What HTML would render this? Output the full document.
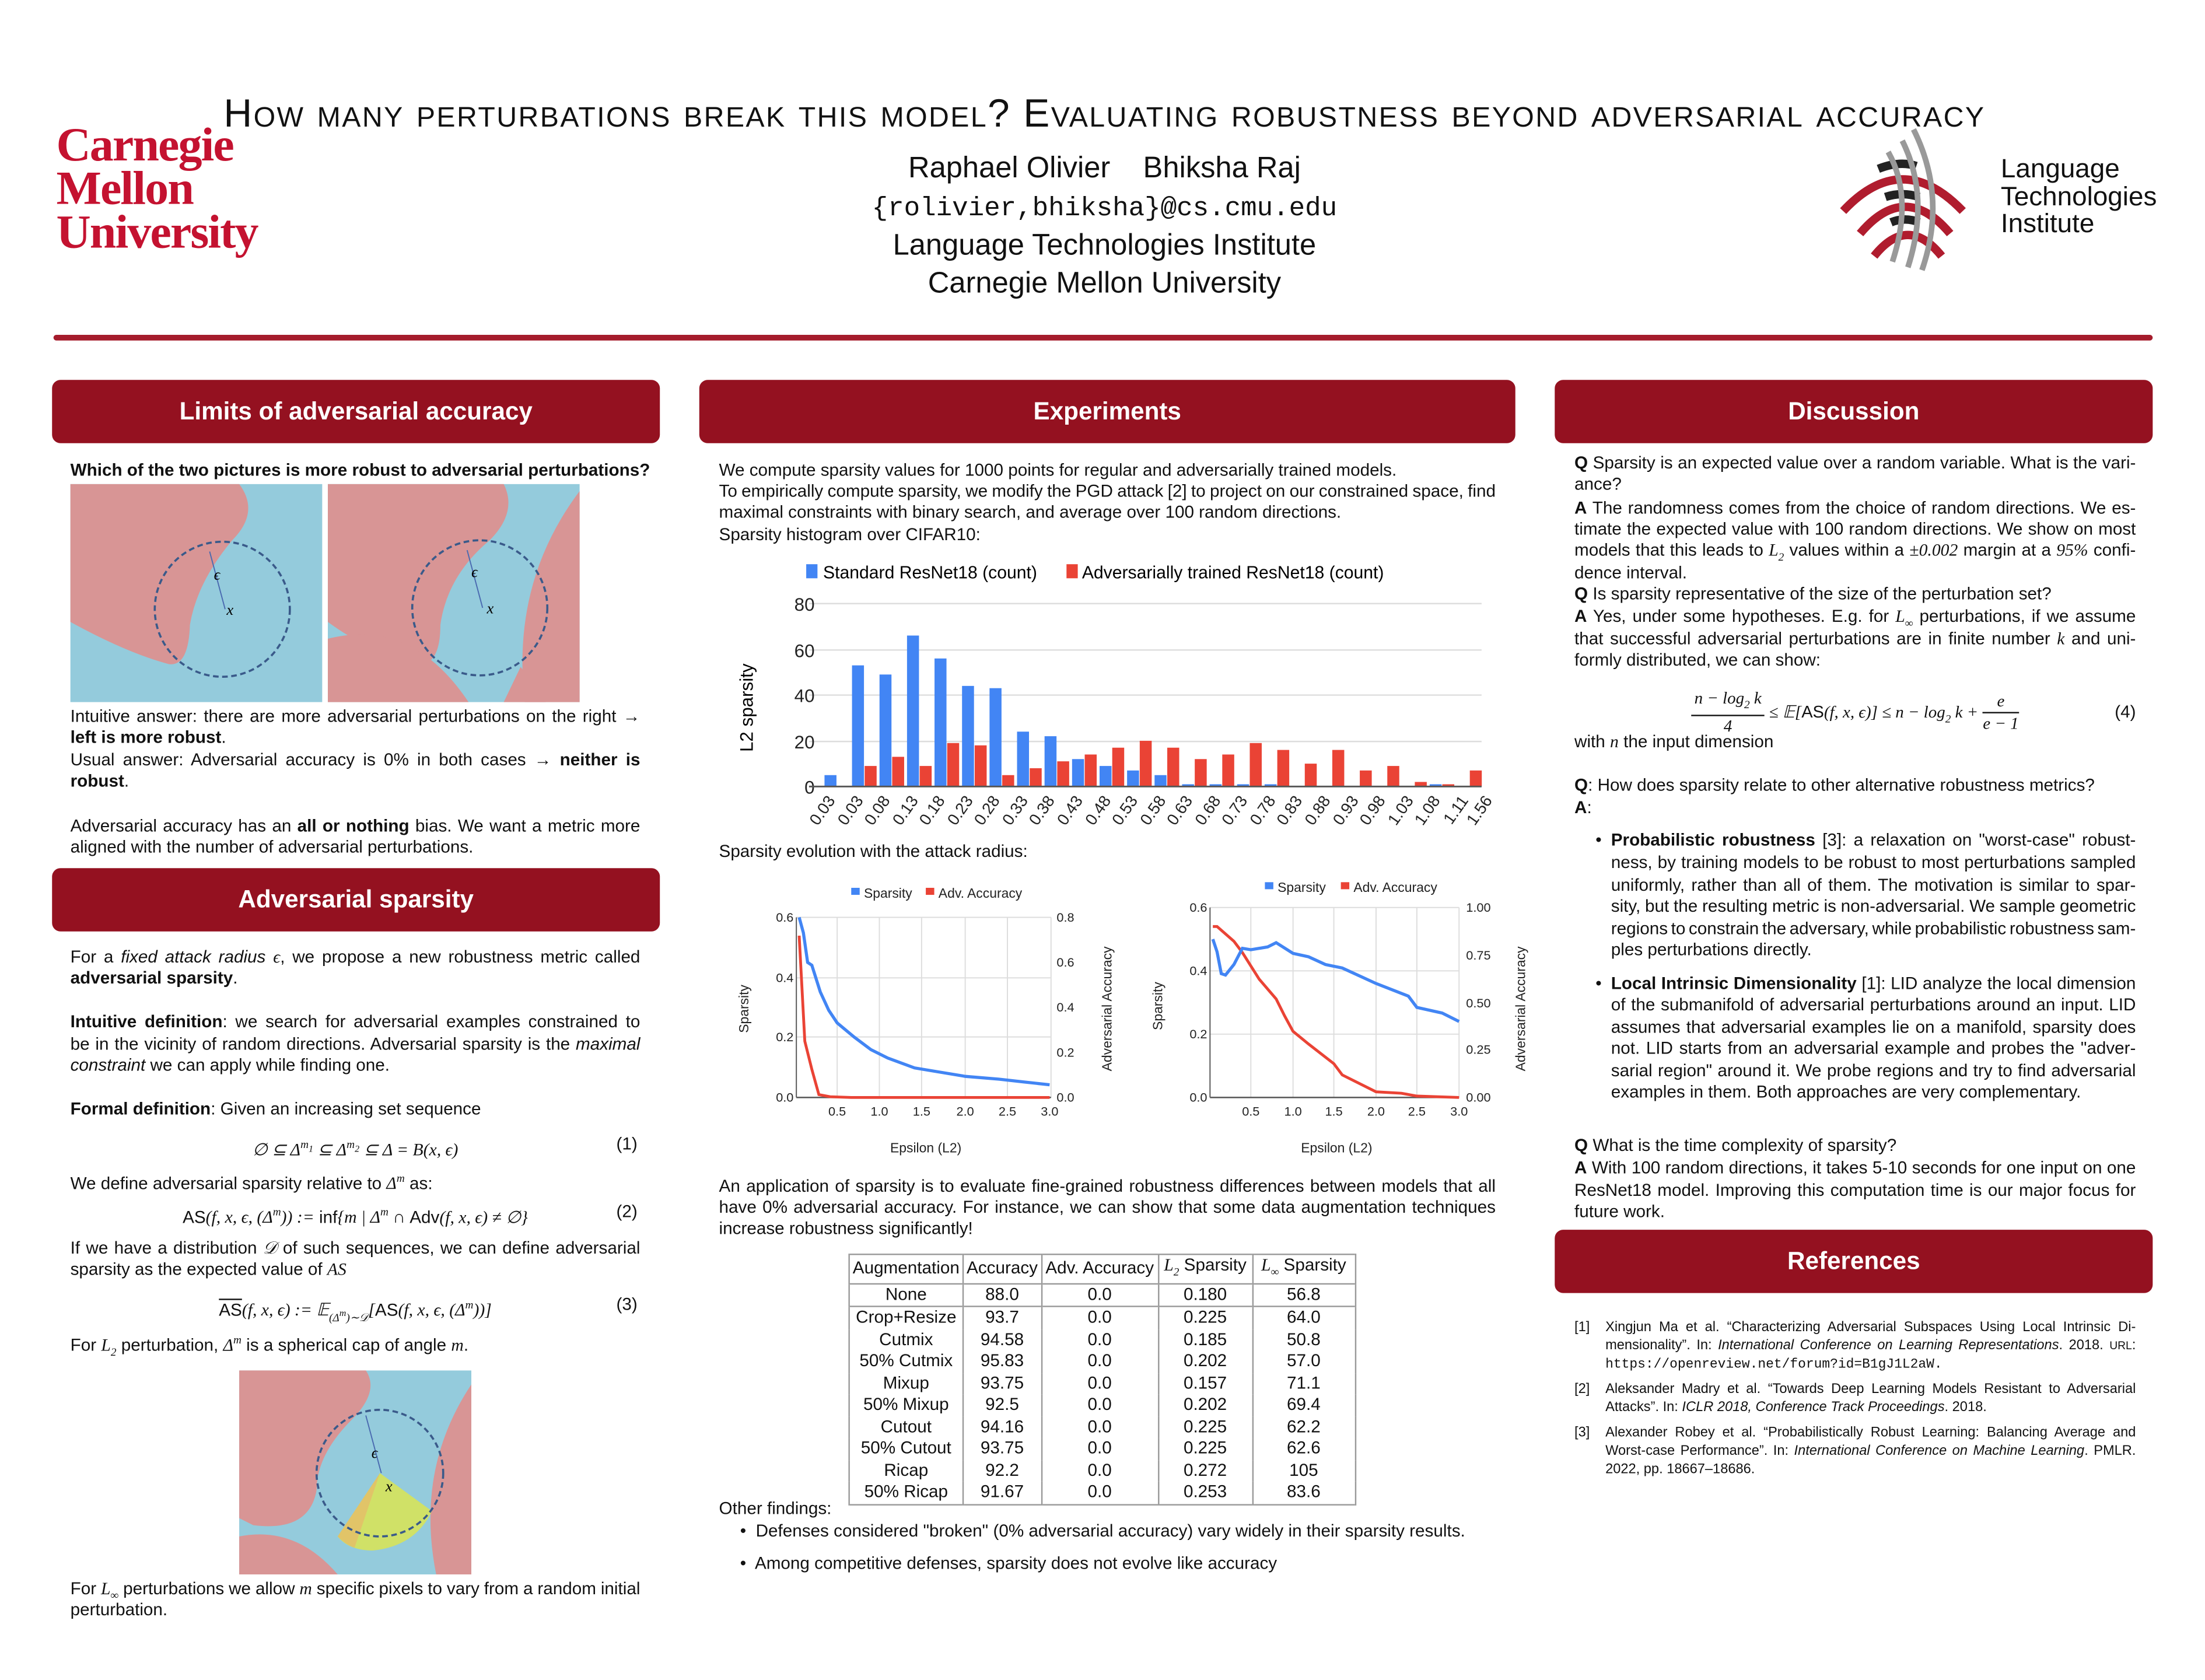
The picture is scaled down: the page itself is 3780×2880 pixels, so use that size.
<!DOCTYPE html>
<html><head><meta charset="utf-8">
<style>
html,body{margin:0;padding:0;background:#fff;}
body{width:3780px;height:2880px;overflow:hidden;position:relative;}
#s{position:absolute;left:0;top:0;width:1567px;height:1194px;transform:scale(2.412);transform-origin:0 0;font-family:"Liberation Sans",sans-serif;color:#111;}
.a{position:absolute;white-space:nowrap;}
.t{position:absolute;font-size:12.3px;line-height:15px;white-space:nowrap;}
.j{text-align:justify;text-align-last:justify;white-space:normal;word-spacing:-2px;height:15px;}
.r{font-size:9.8px;line-height:13px;}
.r.j{height:13px;}
.hd{position:absolute;background:#941120;color:#fff;font-weight:bold;font-size:17.5px;text-align:center;line-height:45px;height:45px;border-radius:6px;}
.m{font-family:"Liberation Serif",serif;font-style:italic;}
.fr{display:inline-block;vertical-align:middle;text-align:center;line-height:15px;}
.fr span{display:block;}
.fr .n{border-bottom:1px solid #111;padding:0 2px;}
table{border-collapse:collapse;font-size:12.3px;}
td{padding:0 2px;text-align:center;height:15.5px;line-height:15.5px;border-left:1px solid #999;border-right:1px solid #999;white-space:nowrap;}
</style></head><body>
<div id="s">

<div class="a" style="left:0;width:1570px;text-align:center;top:65px;font-size:28px;font-variant:small-caps;letter-spacing:1px;">How many perturbations break this model? Evaluating robustness beyond adversarial accuracy</div>
<div class="a" style="left:0;width:1570px;text-align:center;top:108px;font-size:21px;">Raphael Olivier&nbsp;&nbsp;&nbsp;&nbsp;Bhiksha Raj</div>
<div class="a" style="left:0;width:1570px;text-align:center;top:137px;font-size:19px;font-family:'Liberation Mono',monospace;">{rolivier,bhiksha}@cs.cmu.edu</div>
<div class="a" style="left:0;width:1570px;text-align:center;top:163px;font-size:21px;">Language Technologies Institute</div>
<div class="a" style="left:0;width:1570px;text-align:center;top:190px;font-size:21px;">Carnegie Mellon University</div>

<div class="a" style="left:40px;top:88px;font-family:'Liberation Serif',serif;font-weight:bold;color:#c41230;font-size:34px;line-height:31px;letter-spacing:-0.8px;">Carnegie<br>Mellon<br>University</div>

<svg class="a" style="left:1300px;top:85px;" width="110" height="110" viewBox="1300 85 110 110">
<g fill="none" stroke-width="6">
<path d="M1310,150 Q1352,105 1395,150" stroke="#b01c2e"/>
<path d="M1322,166 Q1354,128 1386,166" stroke="#b01c2e"/>
<path d="M1332,182 Q1356,152 1380,182" stroke="#b01c2e"/>
<path d="M1335,120 Q1350,114 1362,118" stroke="#222"/>
<path d="M1340,140 Q1352,136 1364,140" stroke="#222"/>
<path d="M1344,158 Q1354,154 1364,158" stroke="#222"/>
</g>
<g stroke="#999" stroke-width="4" fill="none">
<path d="M1342,108 Q1360,140 1345,186"/>
<path d="M1352,100 Q1372,140 1356,190"/>
<path d="M1360,92 Q1384,140 1366,192"/>
</g>
</svg>
<div class="a" style="left:1422px;top:111px;font-size:19px;line-height:19.5px;">Language<br>Technologies<br>Institute</div>

<div class="a" style="left:38px;top:238px;width:1492px;height:4px;background:#a51c2c;border-radius:2px;"></div>

<div class="hd" style="left:37px;top:270px;width:432px;">Limits of adversarial accuracy</div>
<div class="hd" style="left:497px;top:270px;width:580px;">Experiments</div>
<div class="hd" style="left:1105px;top:270px;width:425px;">Discussion</div>
<div class="hd" style="left:37px;top:617px;width:432px;">Adversarial sparsity</div>
<div class="hd" style="left:1105px;top:874px;width:425px;">References</div>

<div class="t" style="left:50px;top:327px;font-weight:bold;">Which of the two pictures is more robust to adversarial perturbations?</div>

<svg class="a" style="left:50px;top:344px;" width="362" height="156" viewBox="0 0 362 156">
<rect x="0" y="0" width="179" height="155" fill="#94cbdc"/>
<path d="M0,0 L120,0 Q135,20 115,40 Q90,70 85,100 Q84,130 70,128 Q40,120 0,98 Z" fill="#d89595"/>
<circle cx="108" cy="89" r="48" fill="none" stroke="#3a5a8a" stroke-width="1.5" stroke-dasharray="4,2.5"/>
<line x1="99" y1="48" x2="110" y2="89" stroke="#4a6ab0" stroke-width="0.8"/>
<text x="102" y="68" font-family="Liberation Serif" font-style="italic" font-size="11">ϵ</text>
<text x="111" y="93" font-family="Liberation Serif" font-style="italic" font-size="11">x</text>
<g transform="translate(183,0)">
<rect x="0" y="0" width="179" height="155" fill="#94cbdc"/>
<path d="M0,0 L125,0 Q135,20 115,40 Q85,65 80,100 Q80,130 63,128 Q30,120 0,98 Z" fill="#d89595"/>
<path d="M179,5 Q130,70 140,155 L179,155 Z" fill="#d89595"/>
<path d="M0,110 Q60,95 100,155 L0,155 Z" fill="#d89595"/>
<path d="M137,130 Q145,140 155,155 L125,155 Z" fill="#d89595"/>
<circle cx="108" cy="88" r="48" fill="none" stroke="#3a5a8a" stroke-width="1.5" stroke-dasharray="4,2.5"/>
<line x1="99" y1="47" x2="110" y2="88" stroke="#4a6ab0" stroke-width="0.8"/>
<text x="102" y="66" font-family="Liberation Serif" font-style="italic" font-size="11">ϵ</text>
<text x="113" y="92" font-family="Liberation Serif" font-style="italic" font-size="11">x</text>
</g>
</svg>

<div class="t j" style="left:50px;top:502px;width:405px;">Intuitive answer: there are more adversarial perturbations on the right →</div>
<div class="t" style="left:50px;top:517px;"><b>left is more robust</b>.</div>
<div class="t j" style="left:50px;top:533px;width:405px;">Usual answer: Adversarial accuracy is 0% in both cases → <b>neither is</b></div>
<div class="t" style="left:50px;top:548px;"><b>robust</b>.</div>
<div class="t j" style="left:50px;top:580px;width:405px;">Adversarial accuracy has an <b>all or nothing</b> bias. We want a metric more</div>
<div class="t" style="left:50px;top:595px;">aligned with the number of adversarial perturbations.</div>

<div class="t j" style="left:50px;top:673px;width:405px;">For a <i>fixed attack radius</i> <span class="m">ϵ</span>, we propose a new robustness metric called</div>
<div class="t" style="left:50px;top:688px;"><b>adversarial sparsity</b>.</div>
<div class="t j" style="left:50px;top:719px;width:405px;"><b>Intuitive definition</b>: we search for adversarial examples constrained to</div>
<div class="t j" style="left:50px;top:735px;width:405px;">be in the vicinity of random directions. Adversarial sparsity is the <i>maximal</i></div>
<div class="t" style="left:50px;top:750px;"><i>constraint</i> we can apply while finding one.</div>
<div class="t" style="left:50px;top:781px;"><b>Formal definition</b>: Given an increasing set sequence</div>
<div class="t" style="left:50px;top:806px;width:405px;text-align:center;"><span class="m">∅ ⊆ Δ<sup style="font-size:8px">m<sub>1</sub></sup> ⊆ Δ<sup style="font-size:8px">m<sub>2</sub></sup> ⊆ Δ = B(x, ϵ)</span></div>
<div class="t" style="left:438px;top:806px;">(1)</div>
<div class="t" style="left:50px;top:830px;">We define adversarial sparsity relative to <span class="m">Δ<sup style="font-size:8px">m</sup></span> as:</div>
<div class="t" style="left:50px;top:854px;width:405px;text-align:center;">AS<span class="m">(f, x, ϵ, (Δ<sup style="font-size:8px">m</sup>)) :=</span> inf<span class="m">{m | Δ<sup style="font-size:8px">m</sup> ∩ </span>Adv<span class="m">(f, x, ϵ) ≠ ∅}</span></div>
<div class="t" style="left:438px;top:854px;">(2)</div>
<div class="t j" style="left:50px;top:880px;width:405px;">If we have a distribution <span class="m">𝒟</span> of such sequences, we can define adversarial</div>
<div class="t" style="left:50px;top:895px;">sparsity as the expected value of <span class="m">AS</span></div>
<div class="t" style="left:50px;top:920px;width:405px;text-align:center;"><span style="text-decoration:overline">AS</span><span class="m">(f, x, ϵ) := 𝔼<sub style="font-size:8px">(Δ<sup>m</sup>)∼𝒟</sub>[</span>AS<span class="m">(f, x, ϵ, (Δ<sup style="font-size:8px">m</sup>))]</span></div>
<div class="t" style="left:438px;top:920px;">(3)</div>
<div class="t" style="left:50px;top:945px;">For <span class="m">L<sub style="font-size:8px">2</sub></span> perturbation, <span class="m">Δ<sup style="font-size:8px">m</sup></span> is a spherical cap of angle <span class="m">m</span>.</div>

<svg class="a" style="left:170px;top:974px;" width="165" height="145" viewBox="0 0 165 145">
<rect width="165" height="145" fill="#94cbdc"/>
<path d="M0,0 L90,0 Q100,15 80,35 Q55,60 55,85 Q50,115 10,110 L0,105 Z" fill="#d89595"/>
<path d="M165,10 Q125,70 140,145 L165,145 Z" fill="#d89595"/>
<path d="M0,118 Q40,110 70,145 L0,145 Z" fill="#d89595"/>
<path d="M100,73 L137,100 Q125,125 95,128 Q78,128 70,118 Z" fill="#d6e35a" opacity="0.9"/>
<path d="M100,73 L70,118 Q76,124 82,126 Z" fill="#e8b86a" opacity="0.7"/>
<circle cx="100" cy="73" r="45" fill="none" stroke="#3a5a8a" stroke-width="1.5" stroke-dasharray="4,2.5"/>
<line x1="90" y1="32" x2="101" y2="73" stroke="#4a6ab0" stroke-width="0.8"/>
<text x="94" y="62" font-family="Liberation Serif" font-style="italic" font-size="11">ϵ</text>
<text x="104" y="86" font-family="Liberation Serif" font-style="italic" font-size="11">x</text>
</svg>

<div class="t j" style="left:50px;top:1122px;width:405px;">For <span class="m">L<sub style="font-size:8px">∞</sub></span> perturbations we allow <span class="m">m</span> specific pixels to vary from a random initial</div>
<div class="t" style="left:50px;top:1137px;">perturbation.</div>

<div class="t" style="left:511px;top:327px;">We compute sparsity values for 1000 points for regular and adversarially trained models.</div>
<div class="t j" style="left:511px;top:342px;width:552px;">To empirically compute sparsity, we modify the PGD attack [2] to project on our constrained space, find</div>
<div class="t" style="left:511px;top:357px;">maximal constraints with binary search, and average over 100 random directions.</div>
<div class="t" style="left:511px;top:373px;">Sparsity histogram over CIFAR10:</div>

<svg class="a" style="left:500px;top:390px;" width="580" height="200" viewBox="500 390 580 200" font-family="Liberation Sans">
<rect x="573" y="401" width="8" height="10" fill="#4285f4"/>
<text x="585" y="411" font-size="12.5">Standard ResNet18 (count)</text>
<rect x="758" y="401" width="8" height="10" fill="#ea4335"/>
<text x="769" y="411" font-size="12.5">Adversarially trained ResNet18  (count)</text>
<g stroke="#ddd" stroke-width="1">
<line x1="575" y1="429" x2="1053" y2="429"/><line x1="575" y1="462" x2="1053" y2="462"/>
<line x1="575" y1="494" x2="1053" y2="494"/><line x1="575" y1="527" x2="1053" y2="527"/>
</g>
<g font-size="13" text-anchor="end" fill="#222">
<text x="579" y="434" text-anchor="end">80</text><text x="579" y="467">60</text><text x="579" y="499">40</text><text x="579" y="532">20</text><text x="579" y="564">0</text>
</g>
<text transform="translate(535,503) rotate(-90)" font-size="13" text-anchor="middle">L2 sparsity</text>
<g transform="translate(0,559) scale(1,-1)">
<g fill="#4285f4">
<rect x="586" y="0" width="8.5" height="8.1"/>
<rect x="605.55" y="0" width="8.5" height="86.1"/>
<rect x="625.1" y="0" width="8.5" height="79.6"/>
<rect x="644.65" y="0" width="8.5" height="107.3"/>
<rect x="664.2" y="0" width="8.5" height="91"/>
<rect x="683.75" y="0" width="8.5" height="71.5"/>
<rect x="703.3" y="0" width="8.5" height="69.9"/>
<rect x="722.85" y="0" width="8.5" height="39"/>
<rect x="742.4" y="0" width="8.5" height="35.75"/>
<rect x="761.95" y="0" width="8.5" height="19.5"/>
<rect x="781.5" y="0" width="8.5" height="14.6"/>
<rect x="801.05" y="0" width="8.5" height="11.4"/>
<rect x="820.6" y="0" width="8.5" height="8.1"/>
<rect x="840.15" y="0" width="8.5" height="1.6"/>
<rect x="859.7" y="0" width="8.5" height="1.6"/>
<rect x="879.25" y="0" width="8.5" height="1.6"/>
<rect x="898.8" y="0" width="8.5" height="1.6"/>
<rect x="1016.1" y="0" width="8.5" height="1.6"/>
</g>
<g fill="#ea4335">
<rect x="614.55" y="0" width="8.5" height="14.6"/>
<rect x="634.1" y="0" width="8.5" height="21.1"/>
<rect x="653.65" y="0" width="8.5" height="14.6"/>
<rect x="673.2" y="0" width="8.5" height="30.9"/>
<rect x="692.75" y="0" width="8.5" height="29.25"/>
<rect x="712.3" y="0" width="8.5" height="8.1"/>
<rect x="731.85" y="0" width="8.5" height="13"/>
<rect x="751.4" y="0" width="8.5" height="17.9"/>
<rect x="770.95" y="0" width="8.5" height="22.75"/>
<rect x="790.5" y="0" width="8.5" height="27.6"/>
<rect x="810.05" y="0" width="8.5" height="32.5"/>
<rect x="829.6" y="0" width="8.5" height="27.6"/>
<rect x="849.15" y="0" width="8.5" height="19.5"/>
<rect x="868.7" y="0" width="8.5" height="22.75"/>
<rect x="888.25" y="0" width="8.5" height="30.9"/>
<rect x="907.8" y="0" width="8.5" height="26"/>
<rect x="927.35" y="0" width="8.5" height="16.25"/>
<rect x="946.9" y="0" width="8.5" height="26"/>
<rect x="966.45" y="0" width="8.5" height="11.4"/>
<rect x="986" y="0" width="8.5" height="14.6"/>
<rect x="1005.55" y="0" width="8.5" height="3.25"/>
<rect x="1025.1" y="0" width="8.5" height="1.6"/>
<rect x="1044.65" y="0" width="8.5" height="11.4"/>
</g>
</g>
<line x1="575" y1="559" x2="1053" y2="559" stroke="#555" stroke-width="1.2"/>
<g font-size="11.5" text-anchor="end" fill="#222">
<text transform="translate(594,569) rotate(-55)">0.03</text>
<text transform="translate(614,569) rotate(-55)">0.03</text>
<text transform="translate(633,569) rotate(-55)">0.08</text>
<text transform="translate(653,569) rotate(-55)">0.13</text>
<text transform="translate(672,569) rotate(-55)">0.18</text>
<text transform="translate(692,569) rotate(-55)">0.23</text>
<text transform="translate(711,569) rotate(-55)">0.28</text>
<text transform="translate(731,569) rotate(-55)">0.33</text>
<text transform="translate(750,569) rotate(-55)">0.38</text>
<text transform="translate(770,569) rotate(-55)">0.43</text>
<text transform="translate(790,569) rotate(-55)">0.48</text>
<text transform="translate(809,569) rotate(-55)">0.53</text>
<text transform="translate(829,569) rotate(-55)">0.58</text>
<text transform="translate(848,569) rotate(-55)">0.63</text>
<text transform="translate(868,569) rotate(-55)">0.68</text>
<text transform="translate(887,569) rotate(-55)">0.73</text>
<text transform="translate(907,569) rotate(-55)">0.78</text>
<text transform="translate(926,569) rotate(-55)">0.83</text>
<text transform="translate(946,569) rotate(-55)">0.88</text>
<text transform="translate(966,569) rotate(-55)">0.93</text>
<text transform="translate(985,569) rotate(-55)">0.98</text>
<text transform="translate(1005,569) rotate(-55)">1.03</text>
<text transform="translate(1024,569) rotate(-55)">1.08</text>
<text transform="translate(1044,569) rotate(-55)">1.11</text>
<text transform="translate(1061,569) rotate(-55)">1.56</text>
</g>
</svg>

<div class="t" style="left:511px;top:598px;">Sparsity evolution with the attack radius:</div>

<svg class="a" style="left:500px;top:615px;" width="590" height="215" viewBox="500 615 590 215" font-family="Liberation Sans" fill="#222">
<rect x="605" y="631" width="6" height="5" fill="#4285f4"/><text x="614" y="638" font-size="9.5">Sparsity</text>
<rect x="658" y="631" width="6" height="5" fill="#ea4335"/><text x="667" y="638" font-size="9.5">Adv. Accuracy</text>
<g stroke="#ddd" stroke-width="0.8">
<line x1="566" y1="652" x2="747" y2="652"/><line x1="566" y1="695" x2="747" y2="695"/><line x1="566" y1="737" x2="747" y2="737"/>
<line x1="595" y1="652" x2="595" y2="780"/><line x1="625" y1="652" x2="625" y2="780"/><line x1="655" y1="652" x2="655" y2="780"/><line x1="686" y1="652" x2="686" y2="780"/><line x1="716" y1="652" x2="716" y2="780"/><line x1="747" y1="652" x2="747" y2="780"/>
</g>
<line x1="566" y1="652" x2="566" y2="780" stroke="#555" stroke-width="0.8"/>
<line x1="566" y1="780" x2="747" y2="780" stroke="#555" stroke-width="1"/>
<g font-size="9" text-anchor="end"><text x="564" y="655">0.6</text><text x="564" y="698">0.4</text><text x="564" y="740">0.2</text><text x="564" y="783">0.0</text></g>
<g font-size="9"><text x="751" y="655">0.8</text><text x="751" y="687">0.6</text><text x="751" y="719">0.4</text><text x="751" y="751">0.2</text><text x="751" y="783">0.0</text></g>
<g font-size="9" text-anchor="middle"><text x="595" y="793">0.5</text><text x="625" y="793">1.0</text><text x="655" y="793">1.5</text><text x="686" y="793">2.0</text><text x="716" y="793">2.5</text><text x="746" y="793">3.0</text></g>
<text x="658" y="819" font-size="9.5" text-anchor="middle">Epsilon (L2)</text>
<text transform="translate(532,717) rotate(-90)" font-size="9.5" text-anchor="middle">Sparsity</text>
<text transform="translate(790,717) rotate(-90)" font-size="9.5" text-anchor="middle">Adversarial Accuracy</text>
<polyline fill="none" stroke="#ea4335" stroke-width="2" points="568,665 572,740 577,760 582,778 590,779.5 605,780 746,780"/>
<polyline fill="none" stroke="#4285f4" stroke-width="2.2" points="568,652 571,663 574,684 577,686 583,705 589,718 595,727 607,737 619,746 631,752 650,759 668,762 686,765 710,767 728,769 746,771"/>
<rect x="899" y="627" width="6" height="5" fill="#4285f4"/><text x="908" y="634" font-size="9.5">Sparsity</text>
<rect x="953" y="627" width="6" height="5" fill="#ea4335"/><text x="962" y="634" font-size="9.5">Adv. Accuracy</text>
<g stroke="#ddd" stroke-width="0.8">
<line x1="860" y1="645" x2="1037" y2="645"/><line x1="860" y1="690" x2="1037" y2="690"/><line x1="860" y1="735" x2="1037" y2="735"/>
<line x1="889" y1="645" x2="889" y2="780"/><line x1="919" y1="645" x2="919" y2="780"/><line x1="948" y1="645" x2="948" y2="780"/><line x1="978" y1="645" x2="978" y2="780"/><line x1="1007" y1="645" x2="1007" y2="780"/><line x1="1037" y1="645" x2="1037" y2="780"/>
</g>
<line x1="860" y1="645" x2="860" y2="780" stroke="#555" stroke-width="0.8"/>
<line x1="860" y1="780" x2="1037" y2="780" stroke="#555" stroke-width="1"/>
<g font-size="9" text-anchor="end"><text x="858" y="648">0.6</text><text x="858" y="693">0.4</text><text x="858" y="738">0.2</text><text x="858" y="783">0.0</text></g>
<g font-size="9"><text x="1042" y="648">1.00</text><text x="1042" y="682">0.75</text><text x="1042" y="716">0.50</text><text x="1042" y="749">0.25</text><text x="1042" y="783">0.00</text></g>
<g font-size="9" text-anchor="middle"><text x="889" y="793">0.5</text><text x="919" y="793">1.0</text><text x="948" y="793">1.5</text><text x="978" y="793">2.0</text><text x="1007" y="793">2.5</text><text x="1037" y="793">3.0</text></g>
<text x="950" y="819" font-size="9.5" text-anchor="middle">Epsilon (L2)</text>
<text transform="translate(826,715) rotate(-90)" font-size="9.5" text-anchor="middle">Sparsity</text>
<text transform="translate(1084,717) rotate(-90)" font-size="9.5" text-anchor="middle">Adversarial Accuracy</text>
<polyline fill="none" stroke="#ea4335" stroke-width="2" points="862,658.5 865,658.5 877,669 883,677 895,696 907,710 913,722 919,733 930,742 948,756 954,764 978,776 996,777 1007,779 1037,780"/>
<polyline fill="none" stroke="#4285f4" stroke-width="2.2" points="862,667.5 865,676.5 868,692 871,693 877,685.5 883,674 889,675 901,673 907,670 919,677.6 930,680 942,685.5 954,688 978,699 1001,708 1007,716 1025,720 1037,726"/>
</svg>

<div class="t j" style="left:511px;top:836px;width:552px;">An application of sparsity is to evaluate fine-grained robustness differences between models that all</div>
<div class="t j" style="left:511px;top:851px;width:552px;">have 0% adversarial accuracy. For instance, we can show that some data augmentation techniques</div>
<div class="t" style="left:511px;top:866px;">increase robustness significantly!</div>

<table class="a" style="left:603px;top:891px;border-top:1px solid #999;border-bottom:1px solid #999;">
<tr style="border-bottom:1px solid #999;"><td style="width:76px">Augmentation</td><td style="width:50px">Accuracy</td><td style="width:78px">Adv. Accuracy</td><td style="width:62px"><span class="m">L<sub style="font-size:8px">2</sub></span> Sparsity</td><td style="width:68px"><span class="m">L<sub style="font-size:8px">∞</sub></span> Sparsity</td></tr>
<tr style="border-bottom:1px solid #999;"><td>None</td><td>88.0</td><td>0.0</td><td>0.180</td><td>56.8</td></tr>
<tr><td>Crop+Resize</td><td>93.7</td><td>0.0</td><td>0.225</td><td>64.0</td></tr>
<tr><td>Cutmix</td><td>94.58</td><td>0.0</td><td>0.185</td><td>50.8</td></tr>
<tr><td>50% Cutmix</td><td>95.83</td><td>0.0</td><td>0.202</td><td>57.0</td></tr>
<tr><td>Mixup</td><td>93.75</td><td>0.0</td><td>0.157</td><td>71.1</td></tr>
<tr><td>50% Mixup</td><td>92.5</td><td>0.0</td><td>0.202</td><td>69.4</td></tr>
<tr><td>Cutout</td><td>94.16</td><td>0.0</td><td>0.225</td><td>62.2</td></tr>
<tr><td>50% Cutout</td><td>93.75</td><td>0.0</td><td>0.225</td><td>62.6</td></tr>
<tr><td>Ricap</td><td>92.2</td><td>0.0</td><td>0.272</td><td>105</td></tr>
<tr><td>50% Ricap</td><td>91.67</td><td>0.0</td><td>0.253</td><td>83.6</td></tr>
</table>

<div class="t" style="left:511px;top:1065px;">Other findings:</div>
<div class="t" style="left:526px;top:1081px;">•&nbsp; Defenses considered "broken" (0% adversarial accuracy) vary widely in their sparsity results.</div>
<div class="t" style="left:526px;top:1104px;">•&nbsp; Among competitive defenses, sparsity does not evolve like accuracy</div>

<div class="t j" style="left:1119px;top:322px;width:399px;"><b>Q</b> Sparsity is an expected value over a random variable. What is the vari-</div>
<div class="t" style="left:1119px;top:337px;">ance?</div>
<div class="t j" style="left:1119px;top:354px;width:399px;"><b>A</b> The randomness comes from the choice of random directions. We es-</div>
<div class="t j" style="left:1119px;top:369px;width:399px;">timate the expected value with 100 random directions. We show on most</div>
<div class="t j" style="left:1119px;top:384px;width:399px;">models that this leads to <span class="m">L<sub style="font-size:8px">2</sub></span> values within a <span class="m">±0.002</span> margin at a <span class="m">95%</span> confi-</div>
<div class="t" style="left:1119px;top:400px;">dence interval.</div>
<div class="t" style="left:1119px;top:415px;"><b>Q</b> Is sparsity representative of the size of the perturbation set?</div>
<div class="t j" style="left:1119px;top:431px;width:399px;"><b>A</b> Yes, under some hypotheses. E.g. for <span class="m">L<sub style="font-size:8px">∞</sub></span> perturbations, if we assume</div>
<div class="t j" style="left:1119px;top:447px;width:399px;">that successful adversarial perturbations are in finite number <span class="m">k</span> and uni-</div>
<div class="t" style="left:1119px;top:462px;">formly distributed, we can show:</div>
<div class="t" style="left:1119px;top:489px;width:399px;text-align:center;font-size:12px;"><span class="fr"><span class="n m">n − log<sub style="font-size:8px">2</sub> k</span><span class="m">4</span></span> <span class="m">≤ 𝔼[</span>AS<span class="m">(f, x, ϵ)] ≤ n − log<sub style="font-size:8px">2</sub> k +</span> <span class="fr"><span class="n m">e</span><span class="m">e − 1</span></span></div>
<div class="t" style="left:1503px;top:499px;">(4)</div>
<div class="t" style="left:1119px;top:520px;">with <span class="m">n</span> the input dimension</div>
<div class="t" style="left:1119px;top:551px;"><b>Q</b>: How does sparsity relate to other alternative robustness metrics?</div>
<div class="t" style="left:1119px;top:567px;"><b>A</b>:</div>
<div class="t" style="left:1134px;top:590px;">•</div>
<div class="t j" style="left:1145px;top:590px;width:373px;"><b>Probabilistic robustness</b> [3]: a relaxation on "worst-case" robust-</div>
<div class="t j" style="left:1145px;top:606px;width:373px;">ness, by training models to be robust to most perturbations sampled</div>
<div class="t j" style="left:1145px;top:622px;width:373px;">uniformly, rather than all of them. The motivation is similar to spar-</div>
<div class="t j" style="left:1145px;top:637px;width:373px;">sity, but the resulting metric is non-adversarial. We sample geometric</div>
<div class="t j" style="left:1145px;top:653px;width:373px;">regions to constrain the adversary, while probabilistic robustness sam-</div>
<div class="t" style="left:1145px;top:668px;">ples perturbations directly.</div>
<div class="t" style="left:1134px;top:692px;">•</div>
<div class="t j" style="left:1145px;top:692px;width:373px;"><b>Local Intrinsic Dimensionality</b> [1]: LID analyze the local dimension</div>
<div class="t j" style="left:1145px;top:707px;width:373px;">of the submanifold of adversarial perturbations around an input. LID</div>
<div class="t j" style="left:1145px;top:723px;width:373px;">assumes that adversarial examples lie on a manifold, sparsity does</div>
<div class="t j" style="left:1145px;top:738px;width:373px;">not. LID starts from an adversarial example and probes the "adver-</div>
<div class="t j" style="left:1145px;top:754px;width:373px;">sarial region" around it. We probe regions and try to find adversarial</div>
<div class="t" style="left:1145px;top:769px;">examples in them. Both approaches are very complementary.</div>
<div class="t" style="left:1119px;top:807px;"><b>Q</b> What is the time complexity of sparsity?</div>
<div class="t j" style="left:1119px;top:823px;width:399px;"><b>A</b> With 100 random directions, it takes 5-10 seconds for one input on one</div>
<div class="t j" style="left:1119px;top:839px;width:399px;">ResNet18 model. Improving this computation time is our major focus for</div>
<div class="t" style="left:1119px;top:854px;">future work.</div>

<div class="t r" style="left:1119px;top:937px;">[1]</div>
<div class="t r j" style="left:1141px;top:937px;width:377px;">Xingjun Ma et al. “Characterizing Adversarial Subspaces Using Local Intrinsic Di-</div>
<div class="t r j" style="left:1141px;top:950px;width:377px;">mensionality”. In: <i>International Conference on Learning Representations</i>. 2018. <span style="font-size:8px">URL</span>:</div>
<div class="t r" style="left:1141px;top:963px;font-family:'Liberation Mono',monospace;font-size:9.5px;">https://openreview.net/forum?id=B1gJ1L2aW.</div>
<div class="t r" style="left:1119px;top:981px;">[2]</div>
<div class="t r j" style="left:1141px;top:981px;width:377px;">Aleksander Madry et al. “Towards Deep Learning Models Resistant to Adversarial</div>
<div class="t r" style="left:1141px;top:994px;">Attacks”. In: <i>ICLR 2018, Conference Track Proceedings</i>. 2018.</div>
<div class="t r" style="left:1119px;top:1012px;">[3]</div>
<div class="t r j" style="left:1141px;top:1012px;width:377px;">Alexander Robey et al. “Probabilistically Robust Learning: Balancing Average and</div>
<div class="t r j" style="left:1141px;top:1025px;width:377px;">Worst-case Performance”. In: <i>International Conference on Machine Learning</i>. PMLR.</div>
<div class="t r" style="left:1141px;top:1038px;">2022, pp. 18667–18686.</div>

</div>
</body></html>
